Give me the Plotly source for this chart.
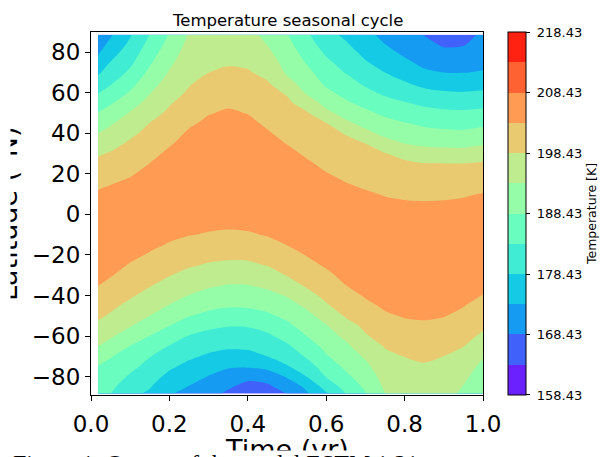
import numpy as np
import plotly.graph_objects as go

# ---------------- data ----------------
time_yr = [0.018, 0.05, 0.1, 0.15, 0.2, 0.25, 0.3, 0.35, 0.4, 0.45, 0.5,
           0.55, 0.6, 0.65, 0.7, 0.75, 0.8, 0.85, 0.9, 0.95, 1.0]
latitude = [-88.2, -85, -80, -75, -70, -65, -60, -55, -50, -45, -40, -35, -30,
            -25, -20, -15, -10, -5, 0, 5, 10, 15, 20, 25, 30, 35, 40, 45, 50,
            55, 60, 65, 70, 75, 80, 85, 88.5]

# temperature profiles [K], one per time step, listed south -> north
T_0018 = [183.9, 184.9, 186.6, 188.2, 190.8, 193.5, 195.5, 197.5, 199.2, 200.6, 202.1, 203.5, 204.6, 205.4, 206.0, 206.3, 206.4, 206.2, 205.7, 205.0, 204.0, 202.7, 201.1, 199.6, 197.9, 195.7, 193.4, 191.0, 188.6, 186.0, 183.2, 180.5, 177.7, 175.0, 172.8, 171.4, 170.4]
T_0050 = [183.5, 184.4, 185.8, 187.2, 188.7, 191.5, 194.0, 195.9, 197.9, 199.4, 200.8, 202.3, 203.7, 204.8, 205.6, 206.1, 206.4, 206.3, 206.0, 205.4, 204.5, 203.3, 201.8, 200.3, 198.8, 197.0, 195.0, 192.9, 190.4, 187.9, 185.2, 182.8, 180.7, 178.6, 176.4, 174.1, 172.9]
T_0100 = [179.6, 180.9, 182.8, 184.7, 186.5, 188.3, 191.0, 193.7, 195.5, 197.3, 199.0, 200.3, 201.7, 203.1, 204.4, 205.4, 206.1, 206.4, 206.4, 206.0, 205.3, 204.3, 203.0, 201.7, 200.4, 199.1, 197.5, 195.6, 193.8, 191.4, 188.9, 186.6, 184.3, 182.4, 180.7, 179.1, 178.0]
T_0150 = [177.7, 178.7, 180.3, 181.9, 183.6, 185.9, 188.3, 190.8, 193.4, 195.2, 197.0, 198.7, 200.1, 201.5, 203.0, 204.3, 205.3, 206.0, 206.3, 206.4, 206.1, 205.6, 204.7, 203.5, 202.3, 201.0, 199.7, 198.5, 196.7, 195.0, 193.2, 191.4, 189.5, 187.8, 186.2, 184.6, 183.5]
T_0200 = [174.0, 175.3, 177.2, 179.2, 181.2, 183.2, 185.8, 188.4, 190.8, 193.2, 195.0, 196.8, 198.6, 200.1, 201.6, 203.1, 204.3, 205.2, 205.9, 206.3, 206.4, 206.3, 205.8, 205.2, 204.2, 203.0, 201.8, 200.5, 199.3, 198.0, 196.6, 195.2, 193.8, 192.5, 191.1, 189.7, 188.8]
T_0250 = [171.7, 173.2, 175.2, 177.2, 179.2, 181.2, 183.2, 185.9, 188.6, 191.0, 193.3, 195.2, 197.1, 198.9, 200.5, 202.1, 203.6, 204.6, 205.3, 205.9, 206.3, 206.4, 206.3, 206.1, 205.6, 204.9, 204.0, 202.8, 201.6, 200.3, 199.0, 198.0, 197.1, 196.2, 195.4, 194.5, 193.9]
T_0300 = [169.9, 171.2, 173.2, 175.4, 177.7, 179.9, 182.0, 184.4, 187.2, 189.6, 191.9, 194.0, 196.0, 198.0, 199.7, 201.4, 203.1, 204.2, 205.0, 205.6, 206.0, 206.3, 206.4, 206.3, 206.0, 205.6, 205.0, 204.2, 203.2, 202.0, 200.8, 199.6, 198.4, 197.6, 196.9, 196.1, 195.6]
T_0350 = [167.7, 168.9, 171.4, 173.9, 176.6, 179.2, 181.4, 183.6, 186.3, 188.9, 191.1, 193.2, 195.4, 197.5, 199.4, 201.1, 202.8, 204.0, 204.8, 205.4, 205.9, 206.2, 206.4, 206.4, 206.2, 205.9, 205.4, 204.7, 203.9, 202.8, 201.6, 200.3, 199.1, 198.0, 197.3, 196.5, 195.9]
T_0400 = [166.2, 167.2, 169.4, 173.9, 176.8, 179.4, 181.5, 183.7, 186.5, 189.0, 191.2, 193.3, 195.5, 197.6, 199.5, 201.3, 203.0, 204.2, 205.0, 205.6, 206.0, 206.3, 206.4, 206.3, 206.1, 205.6, 205.0, 204.3, 203.3, 202.2, 201.0, 199.9, 198.8, 197.7, 196.7, 195.7, 195.0]
T_0450 = [166.4, 167.4, 170.5, 174.9, 178.4, 180.5, 182.6, 185.0, 187.6, 189.9, 192.1, 194.3, 196.4, 198.6, 200.4, 202.2, 203.7, 204.7, 205.4, 206.0, 206.3, 206.4, 206.3, 206.0, 205.5, 204.8, 203.8, 202.8, 201.8, 200.7, 199.7, 198.7, 197.3, 195.8, 194.3, 193.0, 192.2]
T_0500 = [168.5, 170.6, 173.8, 178.0, 180.4, 182.7, 185.0, 187.4, 189.5, 191.6, 193.7, 196.2, 198.6, 200.2, 201.9, 203.5, 204.6, 205.4, 206.0, 206.3, 206.4, 206.3, 205.9, 205.2, 204.4, 203.3, 202.3, 201.3, 200.3, 199.3, 198.0, 194.9, 192.8, 191.7, 190.6, 189.5, 188.7]
T_0550 = [172.9, 174.2, 178.4, 181.2, 183.9, 186.1, 188.4, 190.3, 192.1, 194.2, 196.8, 199.0, 200.6, 202.2, 203.6, 204.7, 205.5, 206.1, 206.4, 206.4, 206.2, 205.7, 205.0, 204.0, 202.9, 201.9, 200.9, 199.9, 198.9, 196.2, 192.9, 191.3, 189.7, 188.1, 186.7, 185.2, 184.2]
T_0600 = [178.0, 180.2, 183.6, 185.8, 188.0, 189.7, 191.4, 193.1, 195.4, 197.9, 199.6, 201.1, 202.6, 203.9, 204.9, 205.7, 206.2, 206.4, 206.4, 206.1, 205.5, 204.7, 203.6, 202.6, 201.6, 200.6, 199.6, 198.5, 194.7, 191.7, 189.4, 187.5, 185.9, 184.3, 182.7, 180.9, 179.7]
T_0650 = [183.5, 185.1, 187.4, 189.3, 190.9, 192.5, 194.4, 196.7, 198.9, 200.4, 201.9, 203.4, 204.5, 205.3, 205.9, 206.3, 206.4, 206.3, 206.0, 205.4, 204.6, 203.6, 202.6, 201.5, 200.5, 199.4, 198.2, 194.4, 191.6, 189.1, 187.1, 185.1, 183.2, 181.7, 180.1, 178.6, 177.6]
T_0700 = [188.2, 189.2, 190.8, 192.3, 194.0, 196.0, 198.0, 199.3, 201.0, 202.5, 203.8, 204.8, 205.5, 206.0, 206.3, 206.4, 206.3, 206.0, 205.5, 204.8, 203.9, 202.8, 201.7, 200.6, 199.5, 198.4, 194.7, 191.8, 189.4, 187.0, 184.6, 182.5, 180.6, 178.8, 177.2, 175.7, 174.6]
T_0750 = [193.4, 194.1, 195.2, 196.4, 197.5, 198.7, 200.1, 201.5, 202.9, 204.0, 204.9, 205.5, 206.0, 206.3, 206.4, 206.3, 206.1, 205.6, 205.0, 204.2, 203.2, 202.1, 200.9, 199.8, 198.6, 195.3, 192.2, 189.9, 187.5, 185.0, 182.6, 180.5, 178.4, 176.5, 174.7, 173.1, 172.3]
T_0800 = [195.4, 195.9, 196.8, 197.6, 198.5, 199.8, 201.2, 202.5, 203.7, 204.6, 205.3, 205.8, 206.2, 206.4, 206.4, 206.2, 205.9, 205.4, 204.7, 203.9, 202.8, 201.6, 200.4, 199.2, 197.1, 193.4, 191.0, 188.6, 186.2, 183.7, 181.2, 178.7, 176.4, 174.3, 172.5, 171.0, 169.9]
T_0850 = [195.9, 196.4, 197.2, 198.0, 199.1, 200.3, 201.6, 202.8, 203.9, 204.8, 205.4, 205.9, 206.2, 206.4, 206.4, 206.2, 205.8, 205.3, 204.6, 203.8, 202.6, 201.2, 199.9, 198.6, 195.6, 192.5, 190.0, 187.5, 185.0, 182.4, 179.6, 176.9, 174.1, 172.3, 170.9, 169.4, 168.3]
T_0900 = [195.4, 195.9, 196.8, 197.6, 198.4, 199.7, 201.0, 202.3, 203.6, 204.5, 205.2, 205.8, 206.2, 206.4, 206.4, 206.2, 205.9, 205.4, 204.8, 203.9, 202.7, 201.3, 199.9, 198.5, 195.2, 192.2, 189.5, 186.9, 184.4, 181.7, 179.0, 175.6, 173.4, 171.4, 169.4, 167.4, 166.0]
T_0950 = [192.4, 193.2, 194.5, 195.8, 197.2, 198.5, 199.8, 201.1, 202.4, 203.6, 204.6, 205.3, 205.9, 206.2, 206.4, 206.4, 206.1, 205.7, 205.0, 204.2, 203.0, 201.5, 200.0, 198.5, 195.2, 192.1, 189.3, 186.7, 184.2, 181.5, 178.7, 176.0, 173.3, 171.4, 169.5, 167.7, 166.6]
T_1000 = [188.4, 189.3, 190.8, 192.2, 193.8, 195.7, 197.6, 199.2, 200.5, 201.9, 203.3, 204.4, 205.2, 205.9, 206.3, 206.4, 206.3, 206.0, 205.4, 204.6, 203.6, 202.1, 200.5, 198.9, 196.1, 192.9, 190.2, 187.4, 184.7, 181.9, 179.1, 176.4, 173.7, 172.4, 171.3, 170.2, 169.4]

profiles = [T_0018, T_0050, T_0100, T_0150, T_0200, T_0250, T_0300, T_0350,
            T_0400, T_0450, T_0500, T_0550, T_0600, T_0650, T_0700, T_0750,
            T_0800, T_0850, T_0900, T_0950, T_1000]

level_start = 163.43   # first contour line
level_end = 213.43     # last contour line
level_step = 5.0
cbar_min, cbar_max = 158.43, 218.43
cbar_ticks = [158.43, 168.43, 178.43, 188.43, 198.43, 208.43, 218.43]
band_colors = ["#6a21fe", "#4062fa", "#159bf1", "#15cae5", "#40ecd4", "#6afdc0",
               "#95fda8", "#bfec8e", "#eaca71", "#ff9b52", "#ff6232", "#ff2111"]
x_ticks = [0.0, 0.2, 0.4, 0.6, 0.8, 1.0]
y_ticks = [-80, -60, -40, -20, 0, 20, 40, 60, 80]
caption = "Figure 1: Output of the model ESTM 1.21"

# ---------------- figure ----------------
for p in profiles:
    assert len(p) == len(latitude), len(p)
z = np.array(profiles).T  # rows = latitude, cols = time

n = len(band_colors)
# colour map used by the contour fills (samples band midpoints)
ncs = n - 1
fill_scale = []
for k, c in enumerate(band_colors):
    lo = 0.0 if k == 0 else (k - 0.5) / ncs
    hi = 1.0 if k == n - 1 else (k + 0.5) / ncs
    fill_scale.append([lo, c])
    fill_scale.append([hi, c])
# discrete colour bar: 12 equal bands from cbar_min to cbar_max
bar_scale = []
for k, c in enumerate(band_colors):
    bar_scale.append([k / n, c])
    bar_scale.append([(k + 1) / n, c])

cb_tickvals = list(cbar_ticks)
cb_tickvals[0] += 0.001
cb_tickvals[-1] -= 0.001

FONT = "DejaVu Sans"
L, R, T, B = 91, 118, 32, 62
PW, PH = 601 - L - R, 457 - T - B


def px_x(x):
    return (x - L) / PW


def px_y(y):
    return (457 - B - y) / PH


fig = go.Figure()
fig.add_trace(go.Contour(
    x=time_yr, y=latitude, z=z,
    autocontour=False,
    contours=dict(start=level_start, end=level_end, size=level_step,
                  coloring="fill", showlines=False),
    line=dict(width=0, smoothing=0.8),
    colorscale=fill_scale, showscale=False,
    hoverinfo="skip",
))
# colour bar (legend of the filled levels)
fig.add_trace(go.Scatter(
    x=[None], y=[None], mode="markers", showlegend=False, hoverinfo="skip",
    marker=dict(
        color=[cbar_min], cmin=cbar_min, cmax=cbar_max, colorscale=bar_scale,
        showscale=True,
        colorbar=dict(
            x=px_x(507.7), xanchor="left", xpad=0, ypad=0,
            y=0.5, yanchor="middle", len=1.0, lenmode="fraction",
            thickness=18, thicknessmode="pixels",
            outlinewidth=1, outlinecolor="black",
            ticks="outside", ticklen=4, tickwidth=1, tickcolor="black",
            tickvals=cb_tickvals, ticktext=[" %.2f" % v for v in cbar_ticks],
            tickfont=dict(family=FONT, size=13, color="black"),
            title=dict(text="Temperature [K]", side="right",
                       font=dict(family=FONT, size=12.5, color="black")),
        ),
    ),
))

fig.update_layout(
    width=601, height=457,
    margin=dict(l=L, r=R, t=T, b=B, pad=0, autoexpand=False),
    paper_bgcolor="white", plot_bgcolor="white",
    showlegend=False,
    xaxis=dict(range=[0, 1], tickvals=x_ticks, tickformat=".1f",
               ticks="outside", ticklen=5, tickwidth=1, tickcolor="black",
               showline=True, linecolor="black", linewidth=1, mirror=True,
               showgrid=False, zeroline=False, ticklabelstandoff=3,
               tickfont=dict(family=FONT, size=23, color="black")),
    yaxis=dict(range=[-89.0, 89.9], tickvals=y_ticks,
               ticks="outside", ticklen=5, tickwidth=1, tickcolor="black",
               showline=True, linecolor="black", linewidth=1, mirror=True,
               showgrid=False, zeroline=False, ticklabelstandoff=0,
               tickfont=dict(family=FONT, size=23, color="black")),
    annotations=[
        dict(text="Temperature seasonal cycle", xref="paper", yref="paper",
             x=0.5, y=px_y(20), xanchor="center", yanchor="middle", showarrow=False,
             font=dict(family=FONT, size=16.5, color="black")),
        dict(text="Latitude (°N)", xref="paper", yref="paper", textangle=-90,
             x=px_x(8), y=px_y(214), xanchor="center", yanchor="middle",
             showarrow=False, font=dict(family=FONT, size=27, color="black")),
        # white strip: the page edge hides the left part of the y title
        dict(text=".", xref="paper", yref="paper", x=px_x(5), y=px_y(214),
             xanchor="center", yanchor="middle", showarrow=False,
             width=10, height=300, bgcolor="white", borderpad=0,
             font=dict(color="white", size=4)),
        dict(text="Time (yr)", xref="paper", yref="paper",
             x=0.5, y=px_y(449), xanchor="center", yanchor="middle", showarrow=False,
             font=dict(family=FONT, size=27, color="black")),
        # white strip between the axis title and the caption of the page
        dict(text=".", xref="paper", yref="paper", x=0.5, y=px_y(456),
             xanchor="center", yanchor="middle", showarrow=False,
             width=700, height=11, bgcolor="white", borderpad=0,
             font=dict(color="white", size=4)),
        dict(text=caption, xref="paper", yref="paper", x=px_x(11), y=px_y(463),
             xanchor="left", yanchor="middle", showarrow=False,
             font=dict(family="Liberation Serif", size=24, color="black")),
    ],
)

fig.write_html("out.html", config={"displayModeBar": False},
               post_script="document.body.style.margin='0px';")
